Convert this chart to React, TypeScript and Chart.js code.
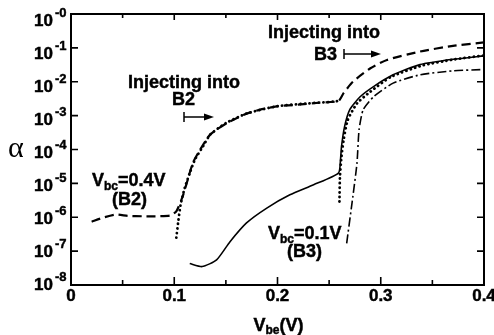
import React, { useEffect, useRef } from "react";
import { Chart, registerables } from "chart.js";

Chart.register(...registerables);

// ---- data ----
// Vbc = 0.4 V curve (dashed), injecting into B2 then B3
const dashVbe = [0.020, 0.030, 0.043, 0.055, 0.070, 0.085, 0.096, 0.102, 0.108, 0.112, 0.118, 0.125, 0.135, 0.151, 0.167, 0.183, 0.201, 0.220, 0.240, 0.259, 0.264, 0.273, 0.290, 0.306, 0.338, 0.370, 0.400];
const dashAlpha = [7.4e-7, 9.5e-7, 1.2e-6, 1.1e-6, 1.07e-6, 1.07e-6, 1.12e-6, 1.5e-6, 4.0e-6, 1.0e-5, 4.0e-5, 9.8e-5, 2.8e-4, 6.0e-4, 1.05e-3, 1.5e-3, 1.9e-3, 2.1e-3, 2.4e-3, 2.7e-3, 4.6e-3, 1.0e-2, 2.5e-2, 4.4e-2, 7.8e-2, 0.115, 0.145];

// dotted curve, B2 branch
const dotB2Vbe = [0.102, 0.104, 0.106, 0.110, 0.115, 0.120, 0.128, 0.135, 0.150, 0.170, 0.200, 0.230, 0.255, 0.262];
const dotB2Alpha = [2.5e-7, 7.9e-7, 2.2e-6, 7.1e-6, 2.0e-5, 5.0e-5, 1.26e-4, 2.8e-4, 6.0e-4, 1.15e-3, 1.9e-3, 2.3e-3, 2.6e-3, 2.8e-3];

// dotted curve, B3 branch
const dotB3Vbe = [0.2600, 0.2605, 0.262, 0.264, 0.268, 0.277, 0.290, 0.310, 0.340, 0.370, 0.400];
const dotB3Alpha = [2.9e-6, 1.6e-5, 6.3e-5, 1.9e-4, 7.4e-4, 2.3e-3, 5.1e-3, 1.4e-2, 3.0e-2, 4.5e-2, 6.0e-2];

// Vbc = 0.1 V curve (solid)
const solidVbe = [0.115, 0.127, 0.141, 0.154, 0.170, 0.190, 0.212, 0.235, 0.259, 0.261, 0.262, 0.265, 0.270, 0.280, 0.293, 0.312, 0.338, 0.370, 0.400];
const solidAlpha = [4.3e-8, 3.5e-8, 5.5e-8, 1.9e-7, 6.8e-7, 1.9e-6, 4.6e-6, 9.1e-6, 2.0e-5, 5.0e-5, 1.23e-4, 4.8e-4, 1.5e-3, 3.6e-3, 7.2e-3, 1.6e-2, 3.2e-2, 4.6e-2, 5.8e-2];

// dash-dot curve
const dashDotVbe = [0.267, 0.273, 0.277, 0.279, 0.283, 0.293, 0.312, 0.338, 0.370, 0.400];
const dashDotAlpha = [1.7e-7, 4.1e-6, 4.0e-5, 3.8e-4, 1.5e-3, 3.6e-3, 9.1e-3, 1.6e-2, 2.1e-2, 2.3e-2];

// axes
const xMajorTicks = [0, 0.1, 0.2, 0.3, 0.4];
const xMajorLabels = ["0", "0.1", "0.2", "0.3", "0.4"];
const xMinorTicks = [0.05, 0.15, 0.25, 0.35];
const yTickValues = [1, 1e-1, 1e-2, 1e-3, 1e-4, 1e-5, 1e-6, 1e-7, 1e-8];
const yTickExponents = ["-0", "-1", "-2", "-3", "-4", "-5", "-6", "-7", "-8"];

const FONT = '"Liberation Sans", Arial, Helvetica, sans-serif';

function pts(xs: number[], ys: number[]) {
  return xs.map((x, i) => ({ x, y: ys[i] }));
}

type Part = { t: string; size: number; dy?: number };

function drawRich(ctx: CanvasRenderingContext2D, parts: Part[], x: number, y: number, align: "left" | "center" | "right") {
  let w = 0;
  for (const p of parts) {
    ctx.font = `bold ${p.size}px ${FONT}`;
    w += ctx.measureText(p.t).width;
  }
  let cx = align === "left" ? x : align === "center" ? x - w / 2 : x - w;
  ctx.textAlign = "left";
  ctx.textBaseline = "alphabetic";
  ctx.lineWidth = 0.45;
  ctx.strokeStyle = "#000";
  for (const p of parts) {
    ctx.font = `bold ${p.size}px ${FONT}`;
    ctx.fillText(p.t, cx, y + (p.dy || 0));
    ctx.strokeText(p.t, cx, y + (p.dy || 0));
    cx += ctx.measureText(p.t).width;
  }
}

function drawArrow(ctx: CanvasRenderingContext2D, x0: number, x1: number, y: number) {
  ctx.save();
  ctx.strokeStyle = "#000";
  ctx.fillStyle = "#000";
  ctx.lineWidth = 1.5;
  ctx.beginPath();
  ctx.moveTo(x0, y - 5);
  ctx.lineTo(x0, y + 5);
  ctx.moveTo(x0, y);
  ctx.lineTo(x1 - 8, y);
  ctx.stroke();
  ctx.beginPath();
  ctx.moveTo(x1, y);
  ctx.lineTo(x1 - 10, y - 3.5);
  ctx.lineTo(x1 - 10, y + 3.5);
  ctx.closePath();
  ctx.fill();
  ctx.restore();
}

const decorPlugin = {
  id: "decor",
  afterDraw(chart: any) {
    const ctx: CanvasRenderingContext2D = chart.ctx;
    const { left, right, top, bottom } = chart.chartArea;
    const xs = chart.scales.x;
    const ys = chart.scales.y;
    ctx.save();
    ctx.strokeStyle = "#000";
    ctx.fillStyle = "#000";
    ctx.lineWidth = 2;
    ctx.strokeRect(left, top, right - left, bottom - top);

    // ticks
    ctx.lineWidth = 1.6;
    ctx.beginPath();
    for (const v of yTickValues) {
      const y = ys.getPixelForValue(v);
      ctx.moveTo(left, y);
      ctx.lineTo(left + 7, y);
      ctx.moveTo(right, y);
      ctx.lineTo(right - 7, y);
    }
    for (const v of xMajorTicks) {
      const x = xs.getPixelForValue(v);
      ctx.moveTo(x, bottom);
      ctx.lineTo(x, bottom - 8);
      ctx.moveTo(x, top);
      ctx.lineTo(x, top + 6);
    }
    for (const v of xMinorTicks) {
      const x = xs.getPixelForValue(v);
      ctx.moveTo(x, bottom);
      ctx.lineTo(x, bottom - 5);
      ctx.moveTo(x, top);
      ctx.lineTo(x, top + 4);
    }
    ctx.stroke();

    // x tick labels
    xMajorTicks.forEach((v, i) => {
      const x = xs.getPixelForValue(v);
      drawRich(ctx, [{ t: xMajorLabels[i], size: 17 }], x, bottom + 16, "center");
    });

    // y tick labels
    yTickValues.forEach((v, i) => {
      const y = ys.getPixelForValue(v);
      const base = y + 12 - i * 0.85;
      drawRich(ctx, [{ t: "10", size: 17 }], 53, base, "right");
      drawRich(ctx, [{ t: yTickExponents[i], size: 13 }], 55, base - 9, "left");
    });

    // axis titles
    drawRich(ctx, [{ t: "V", size: 18 }, { t: "be", size: 12, dy: 3 }, { t: "(V)", size: 18 }], (left + right) / 2 + 1, 331, "center");
    ctx.font = `30px "Liberation Serif", "DejaVu Serif", serif`;
    ctx.textAlign = "left";
    ctx.textBaseline = "alphabetic";
    ctx.fillText("\u03b1", 8, 157);

    // annotations
    drawRich(ctx, [{ t: "Injecting into", size: 18 }], 268, 38, "left");
    drawRich(ctx, [{ t: "B3", size: 18 }], 314, 60, "left");
    drawArrow(ctx, 344, 381, 54);

    drawRich(ctx, [{ t: "Injecting into", size: 18 }], 128, 88, "left");
    drawRich(ctx, [{ t: "B2", size: 18 }], 172, 105, "left");
    drawArrow(ctx, 184, 214, 117);

    drawRich(ctx, [{ t: "V", size: 18 }, { t: "bc", size: 12, dy: 4 }, { t: "=0.4V", size: 18 }], 92, 186, "left");
    drawRich(ctx, [{ t: "(B2)", size: 18 }], 112, 205, "left");

    drawRich(ctx, [{ t: "V", size: 18 }, { t: "bc", size: 12, dy: 4 }, { t: "=0.1V", size: 18 }], 268, 239, "left");
    drawRich(ctx, [{ t: "(B3)", size: 18 }], 287, 257, "left");

    ctx.restore();
  },
};

export default function App() {
  const ref = useRef<HTMLCanvasElement | null>(null);
  useEffect(() => {
    if (!ref.current) return;
    const common = { pointRadius: 0, fill: false, tension: 0.2, borderColor: "#000" };
    const chart = new Chart(ref.current, {
      type: "line",
      data: {
        datasets: [
          { ...common, label: "Vbc=0.4V", data: pts(dashVbe, dashAlpha), borderWidth: 2.2, borderDash: [9, 5] },
          { ...common, label: "dotted B2", data: pts(dotB2Vbe, dotB2Alpha), borderWidth: 2.8, borderDash: [0.1, 4.5], borderCapStyle: "round" },
          { ...common, label: "dotted B3", data: pts(dotB3Vbe, dotB3Alpha), borderWidth: 2.8, borderDash: [0.1, 4.5], borderCapStyle: "round" },
          { ...common, label: "Vbc=0.1V", data: pts(solidVbe, solidAlpha), borderWidth: 1.6 },
          { ...common, label: "dash-dot", data: pts(dashDotVbe, dashDotAlpha), borderWidth: 1.6, borderDash: [9, 3, 2, 3] },
        ] as any,
      },
      options: {
        animation: false,
        responsive: false,
        devicePixelRatio: 1,
        layout: { padding: { left: 71, right: 10, top: 14, bottom: 50 } },
        plugins: { legend: { display: false }, tooltip: { enabled: false } },
        scales: {
          x: { type: "linear", min: 0, max: 0.4, display: false },
          y: { type: "logarithmic", min: 1e-8, max: 1, display: false },
        },
      },
      plugins: [decorPlugin],
    });
    return () => chart.destroy();
  }, []);
  return (
    <div style={{ position: "fixed", left: 0, top: 0, width: 494, height: 335, background: "#fff" }}>
      <canvas ref={ref} width={494} height={335} style={{ width: 494, height: 335, display: "block" }} />
    </div>
  );
}
